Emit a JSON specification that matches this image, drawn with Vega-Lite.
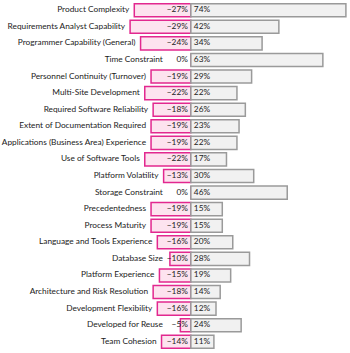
{
  "$schema": "https://vega.github.io/schema/vega-lite/v6.json",
  "autosize": {"type": "none"},
  "padding": {"left": 128, "top": 2, "right": 2, "bottom": 3},
  "width": 220,
  "height": 348,
  "background": "white",
  "config": {"view": {"stroke": null}, "text": {"font": "Lato", "fontSize": 8.3, "color": "#222"}},
  "data": {"values": [
    {"factor": "Product Complexity", "neg": -0.27, "pos": 0.74},
    {"factor": "Requirements Analyst Capability", "neg": -0.29, "pos": 0.42},
    {"factor": "Programmer Capability (General)", "neg": -0.24, "pos": 0.34},
    {"factor": "Time Constraint", "neg": 0, "pos": 0.63},
    {"factor": "Personnel Continuity (Turnover)", "neg": -0.19, "pos": 0.29},
    {"factor": "Multi-Site Development", "neg": -0.22, "pos": 0.22},
    {"factor": "Required Software Reliability", "neg": -0.18, "pos": 0.26},
    {"factor": "Extent of Documentation Required", "neg": -0.19, "pos": 0.23},
    {"factor": "Applications (Business Area) Experience", "neg": -0.19, "pos": 0.22},
    {"factor": "Use of Software Tools", "neg": -0.22, "pos": 0.17},
    {"factor": "Platform Volatility", "neg": -0.13, "pos": 0.30},
    {"factor": "Storage Constraint", "neg": 0, "pos": 0.46},
    {"factor": "Precedentedness", "neg": -0.19, "pos": 0.15},
    {"factor": "Process Maturity", "neg": -0.19, "pos": 0.15},
    {"factor": "Language and Tools Experience", "neg": -0.16, "pos": 0.20},
    {"factor": "Database Size", "neg": -0.10, "pos": 0.28},
    {"factor": "Platform Experience", "neg": -0.15, "pos": 0.19},
    {"factor": "Architecture and Risk Resolution", "neg": -0.18, "pos": 0.14},
    {"factor": "Development Flexibility", "neg": -0.16, "pos": 0.12},
    {"factor": "Developed for Reuse", "neg": -0.05, "pos": 0.24},
    {"factor": "Team Cohesion", "neg": -0.14, "pos": 0.11}
  ]},
  "transform": [{"calculate": "min(datum.neg, -0.11)", "as": "labelPos"}],
  "encoding": {
    "y": {"field": "factor", "type": "nominal", "sort": null, "axis": null,
          "scale": {"paddingInner": 0.21, "paddingOuter": 0.1}}
  },
  "layer": [
    {
      "mark": {"type": "bar", "fill": "#fde3ef", "stroke": "#e2288f", "strokeWidth": 1.5},
      "encoding": {
        "x": {"field": "neg", "type": "quantitative", "axis": null, "scale": {"domain": [-0.30, 0.75], "nice": false, "zero": false}},
        "x2": {"datum": 0}
      }
    },
    {
      "mark": {"type": "bar", "fill": "#f1f1f1", "stroke": "#9a9a9a", "strokeWidth": 1.5},
      "encoding": {
        "x": {"field": "pos", "type": "quantitative"},
        "x2": {"datum": 0}
      }
    },
    {
      "mark": {"type": "text", "align": "right", "dx": -3},
      "encoding": {
        "x": {"datum": 0},
        "text": {"field": "neg", "type": "quantitative", "format": ".0%"}
      }
    },
    {
      "mark": {"type": "text", "align": "left", "dx": 3},
      "encoding": {
        "x": {"datum": 0},
        "text": {"field": "pos", "type": "quantitative", "format": ".0%"}
      }
    },
    {
      "mark": {"type": "text", "align": "right", "dx": -5},
      "encoding": {
        "x": {"field": "labelPos", "type": "quantitative"},
        "text": {"field": "factor", "type": "nominal"}
      }
    },
    {
      "mark": {"type": "rule", "color": "#333", "strokeWidth": 1.5},
      "encoding": {"x": {"datum": 0}}
    }
  ]
}
